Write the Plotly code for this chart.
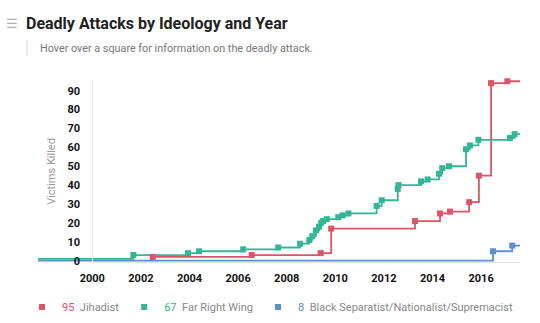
import plotly.graph_objects as go

# ---- data (decimal year of attack, cumulative victims killed) ----
jihadist_year = [2002.49, 2006.56, 2009.40, 2009.83, 2013.28, 2014.31, 2014.72,
                 2015.51, 2015.91, 2016.41, 2017.08]
jihadist_killed = [2, 3, 4, 17, 21, 25, 26, 31, 45, 94, 95]

far_right_year = [2001.69, 2003.94, 2004.39, 2006.21, 2007.65, 2008.55, 2008.93,
                  2009.05, 2009.20, 2009.33, 2009.42, 2009.50, 2009.65, 2010.12,
                  2010.30, 2010.54, 2011.70, 2011.91, 2012.57, 2012.60, 2013.53,
                  2013.80, 2014.27, 2014.40, 2014.68, 2015.38, 2015.54, 2015.89,
                  2017.19, 2017.38]
far_right_killed = [3, 4, 5, 6, 7, 9, 11, 13, 16, 18, 20, 21, 22, 23, 24, 25, 29,
                    32, 38, 40, 42, 43, 46, 49, 50, 59, 61, 64, 65, 67]

black_year = [2016.49, 2017.28]
black_killed = [5, 8]

series_start = 1997.77
series_end = 2017.60
far_right_start_level = 1
black_start_level = 0

names = ["Jihadist", "Far Right Wing", "Black Separatist/Nationalist/Supremacist"]
colors = ["#dc5468", "#33b596", "#5b8fcf"]

x_ticks = list(range(2000, 2017, 2))
y_ticks = list(range(0, 91, 10))

series = [
    (jihadist_year, jihadist_killed, None),
    (far_right_year, far_right_killed, far_right_start_level),
    (black_year, black_killed, black_start_level),
]

fig = go.Figure()

# step lines
for (xs, ys, start), name, col in zip(series, names, colors):
    lx = list(xs)
    ly = list(ys)
    if start is not None:
        lx = [series_start] + lx
        ly = [start] + ly
    lx = lx + [series_end]
    ly = ly + [ys[-1]]
    fig.add_trace(go.Scatter(
        x=lx, y=ly, mode="lines", line=dict(color=col, width=1.8, shape="hv"),
        hoverinfo="skip", showlegend=False))

# square markers for each attack (also used for the legend)
for (xs, ys, start), name, col in zip(series, names, colors):
    fig.add_trace(go.Scatter(
        x=xs, y=ys, mode="markers",
        marker=dict(symbol="square", size=6, color=col),
        name=f"<span style='color:{col}'>{ys[-1]}</span>  {name}",
        hovertemplate=name + "<br>%{y} killed<extra></extra>",
        cliponaxis=False))

W, H = 540, 323
ML, MR, MT, MB = 0, 0, 80, 60
x0_px = 92.3
px_per_year = 24.3
xr = [2000 - x0_px / px_per_year, 2000 + (W - x0_px) / px_per_year]
zero_px = 260.7 - MT
px_per_unit = 1.889
plot_h = H - MT - MB
yr = [-(plot_h - zero_px) / px_per_unit, zero_px / px_per_unit]

fig.update_layout(
    width=W, height=H,
    margin=dict(l=ML, r=MR, t=MT, b=MB),
    paper_bgcolor="white", plot_bgcolor="white",
    font=dict(family="Roboto, Arial, sans-serif", color="#222"),
    title=dict(text="<b>Deadly Attacks by Ideology and Year</b>",
               x=26 / W, xanchor="left", y=1 - 23 / H, yanchor="middle",
               font=dict(size=16, color="#222")),
    xaxis=dict(range=xr, tickvals=x_ticks, ticktext=[f"<b>{t}</b>" for t in x_ticks],
               showgrid=False, zeroline=False, showline=False,
               ticks="", ticklabelstandoff=7,
               tickfont=dict(size=11, color="#111")),
    yaxis=dict(range=yr, tickvals=y_ticks, ticktext=[f"<b>{t}</b>" for t in y_ticks],
               anchor="free", position=x0_px / W, showgrid=False, zeroline=False,
               showline=True, linecolor="#ececec", linewidth=1, ticks="",
               ticklabelstandoff=10, tickfont=dict(size=11, color="#111"),
               title=dict(text="Victims Killed", font=dict(size=11, color="#999"),
                          standoff=8),
               automargin=False),
    legend=dict(orientation="h", x=0.5, xanchor="center",
                y=(plot_h - (307 - MT)) / plot_h, yanchor="middle",
                font=dict(size=11, color="#888"), itemsizing="trace",
                itemwidth=30, bgcolor="rgba(0,0,0,0)"),
    hovermode="closest",
    shapes=[
        dict(type="line", xref="x", yref="y", x0=x_ticks[0], x1=series_end,
             y0=yr[0] + 0.3, y1=yr[0] + 0.3, line=dict(color="#e3e3e3", width=1),
             layer="below"),
        dict(type="line", xref="paper", yref="paper", x0=27 / W, x1=27 / W,
             y0=(plot_h - (40 - MT)) / plot_h, y1=(plot_h - (56 - MT)) / plot_h,
             line=dict(color="#d5d5d5", width=1)),
    ],
    annotations=[
        dict(text="☰", xref="paper", yref="paper", x=4 / W, xanchor="left",
             y=(plot_h - (23 - MT)) / plot_h, yanchor="middle", showarrow=False,
             font=dict(size=13, color="#b0b0b0")),
        dict(text="Hover over a square for information on the deadly attack.",
             xref="paper", yref="paper", x=38 / W, xanchor="left",
             y=(plot_h - (48 - MT)) / plot_h, yanchor="middle", showarrow=False,
             font=dict(size=10.8, color="#777")),
    ],
)

fig.write_html("out.html")
